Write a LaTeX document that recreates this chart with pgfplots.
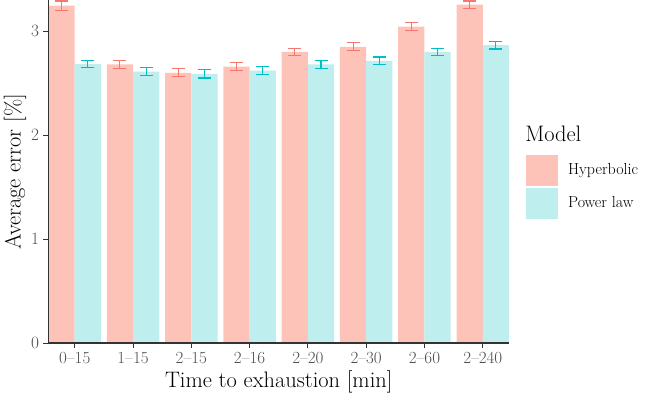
\documentclass[border=0pt]{standalone}
\usepackage{pgfplots}
\usepackage{pgfplotstable}
\pgfplotsset{compat=1.18}
\definecolor{hypline}{HTML}{F8766D}
\definecolor{powline}{HTML}{00BFC4}
\definecolor{hypfill}{HTML}{FDC3B8}
\definecolor{powfill}{HTML}{BFEEEE}
\definecolor{tickgrey}{HTML}{4D4D4D}

% x: 1=0-15 ... 8=2-240 ; y, error
\pgfplotstableread{
x y e
1 3.245 0.045
2 2.68  0.040
3 2.60  0.040
4 2.66  0.038
5 2.80  0.036
6 2.85  0.037
7 3.045 0.036
8 3.255 0.035
}\hyp
\pgfplotstableread{
x y e
1 2.685 0.036
2 2.61  0.040
3 2.59  0.040
4 2.62  0.040
5 2.68  0.040
6 2.715 0.037
7 2.80  0.033
8 2.865 0.036
}\pow

\newcommand{\legfont}{\fontsize{16}{20}\selectfont}

\begin{document}
\begin{tikzpicture}
  \path[use as bounding box] (0,0) rectangle (646pt,400pt);
  \begin{axis}[
    at={(48.5pt,57pt)}, anchor=south west,
    scale only axis,
    width=460.5pt, height=343pt,
    xmin=0.55, xmax=8.45,
    ymin=0, ymax=3.30,
    axis x line*=bottom, axis y line*=left,
    axis line style={draw=black!80, line width=1.1pt, -},
    axis on top,
    xtick={1,...,8},
    xticklabels={0--15,1--15,2--15,2--16,2--20,2--30,2--60,2--240},
    ytick={0,1,2,3},
    tick align=outside,
    major tick length=5pt,
    tick style={draw=black!80, line width=1pt},
    ticklabel style={font=\fontsize{17}{20}\selectfont, text=tickgrey},
    xticklabel style={yshift=-1pt},
    yticklabel style={xshift=-1pt},
    xlabel={Time to exhaustion [min]},
    ylabel={Average error [\%]},
    label style={font=\fontsize{22.4}{26}\selectfont},
    ylabel style={yshift=-2pt},
    clip=false,
    legend style={at={(1.037,0.456)}, anchor=west, draw=none, fill=none,
      row sep=2.5pt, inner sep=0pt, column sep=0pt},
    legend cell align=left,
  ]
    \addplot[ybar, bar width=0.45, fill=hypfill, draw=none, bar shift=0pt, forget plot,
      error bars/.cd, y dir=both, y explicit,
      error bar style={draw=hypline, line width=1.1pt},
      error mark options={rotate=90, draw=hypline, mark size=6.5pt, line width=1.1pt}]
      table[x expr=\thisrow{x}-0.225, y=y, y error=e] {\hyp};
    \addplot[ybar, bar width=0.45, fill=powfill, draw=none, bar shift=0pt, forget plot,
      error bars/.cd, y dir=both, y explicit,
      error bar style={draw=powline, line width=1.1pt},
      error mark options={rotate=90, draw=powline, mark size=6.5pt, line width=1.1pt}]
      table[x expr=\thisrow{x}+0.225, y=y, y error=e] {\pow};
    \addlegendimage{legend image code/.code={\fill[hypfill] (0pt,-15pt) rectangle (30.5pt,15pt);}}
    \addlegendentry{\legfont\hspace{9pt}Hyperbolic}
    \addlegendimage{legend image code/.code={\fill[powfill] (0pt,-15pt) rectangle (30.5pt,15pt);}}
    \addlegendentry{\legfont\hspace{9pt}Power law}
    \node[anchor=west, font=\fontsize{22.4}{26}\selectfont, inner sep=0pt]
      at (axis description cs:1.035,0.609) {Model};
  \end{axis}
\end{tikzpicture}
\end{document}
